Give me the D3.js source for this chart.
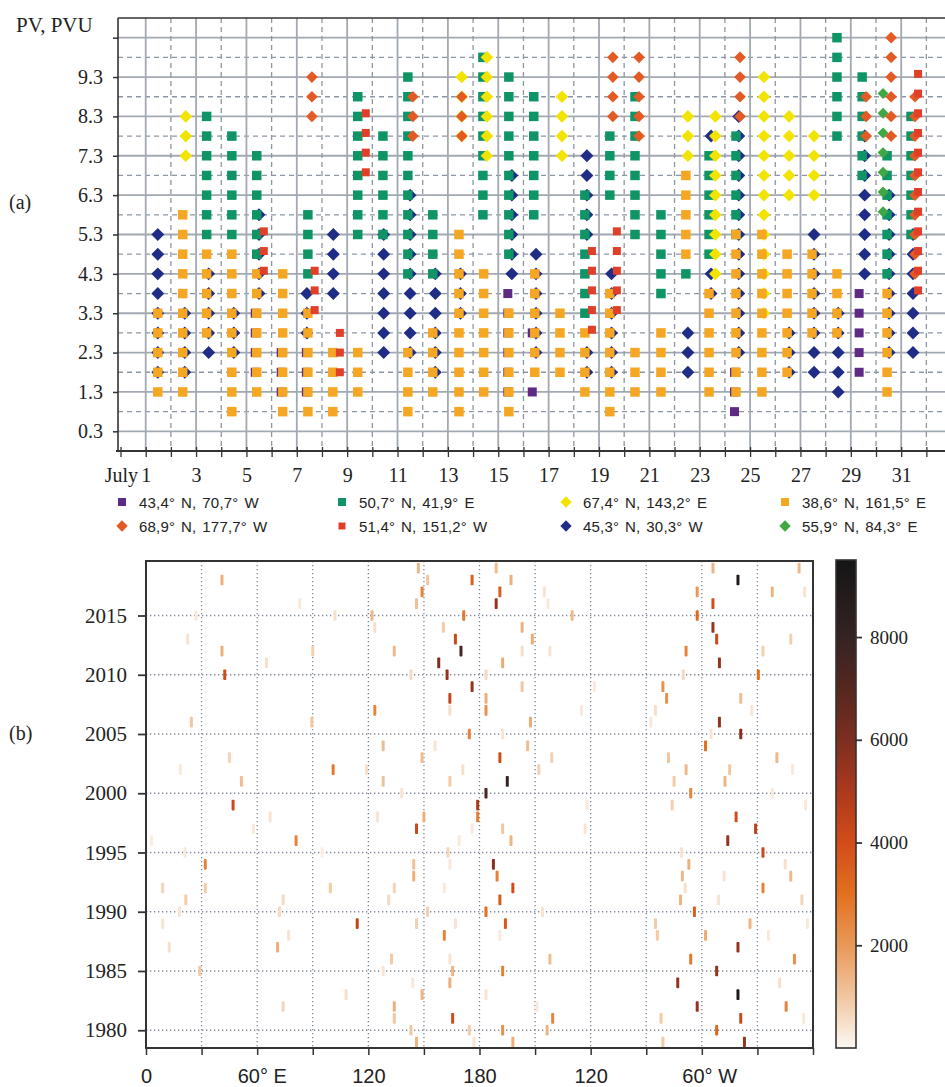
<!DOCTYPE html>
<html>
<head>
<meta charset="utf-8">
<script src="https://cdn.jsdelivr.net/npm/d3@7"></script>
<style>
  body { margin: 0; background: #fff; }
  svg text { font-family: "Liberation Serif", "Times New Roman", "DejaVu Serif", serif; fill: #222; }
  svg text.sans { font-family: "Liberation Sans", Arial, sans-serif; }
</style>
</head>
<body>
<svg id="chart" width="945" height="1087"></svg>
<script>
// ---------------- data, panel (a) ----------------
// each column: [day of July, [PV values, PVU]]
const pvPurple = [
  [5.35, [1.8, 2.3, 2.8, 3.3]], [6.38, [1.3, 1.8, 2.3]], [7.38, [1.3, 1.8, 2.3]],
  [15.38, [1.3, 1.8, 2.3, 2.8, 3.3, 3.8]], [16.35, [1.3, 2.8]],
  [24.38, [0.8, 1.3, 1.8]], [29.33, [1.8, 2.3, 2.8, 3.3, 3.8]]
]
const pvGreen = [
  [3.42, [5.3, 5.8, 6.3, 6.8, 7.3, 7.8, 8.3]], [4.42, [5.3, 5.8, 6.3, 6.8, 7.3, 7.8]],
  [5.41, [4.8, 5.3, 5.8, 6.3, 6.8, 7.3]], [7.44, [4.3, 4.8, 5.3, 5.8]],
  [9.42, [5.3, 5.8, 6.3, 6.8, 7.3, 7.8, 8.3, 8.8]], [10.42, [5.3, 5.8, 6.3, 6.8, 7.3, 7.8]],
  [11.41, [4.3, 4.8, 5.3, 5.8, 6.3, 6.8, 7.3, 7.8, 8.3, 8.8, 9.3]], [12.40, [4.3, 4.8, 5.3, 5.8]],
  [14.39, [5.8, 6.3, 6.8, 7.3, 7.8, 8.3, 8.8, 9.3, 9.8]],
  [15.42, [4.8, 5.3, 5.8, 6.3, 6.8, 7.3, 7.8, 8.3, 8.8, 9.3]],
  [16.41, [5.8, 6.3, 6.8, 7.3, 7.8, 8.3, 8.8]], [18.44, [3.3, 3.8, 4.3, 4.8, 5.3, 5.8, 6.3]],
  [19.43, [6.3, 6.8, 7.3, 7.8]], [20.43, [5.3, 5.8, 6.3, 6.8, 7.3, 7.8, 8.3, 8.8]],
  [21.46, [3.8, 4.3, 4.8, 5.3, 5.8]], [22.45, [4.3]], [23.37, [4.8, 5.3, 5.8, 6.3, 6.8, 7.3]],
  [24.44, [5.3, 5.8, 6.3, 6.8, 7.3, 7.8]], [28.45, [7.8, 8.3, 8.8, 9.3, 9.8, 10.3]],
  [29.45, [6.8, 7.3, 7.8, 8.3, 8.8, 9.3]], [30.44, [4.3, 4.8, 5.3, 5.8, 6.3, 6.8, 7.3]],
  [31.39, [5.3, 5.8, 6.3, 6.8, 7.3, 7.8, 8.3]]
]
const pvYellow = [
  [2.59, [7.3, 7.8, 8.3]], [13.55, [7.8, 8.3, 8.8, 9.3]], [14.55, [7.3, 7.8, 8.3, 8.8, 9.3, 9.8]],
  [17.53, [7.3, 7.8, 8.3, 8.8]], [22.53, [7.3, 7.8, 8.3]],
  [23.62, [4.3, 4.8, 5.3, 5.8, 6.3, 6.8, 7.3, 7.8, 8.3]],
  [25.55, [3.3, 3.8, 4.3, 4.8, 5.3, 5.8, 6.3, 6.8, 7.3, 7.8, 8.3, 8.8, 9.3]],
  [26.55, [6.3, 6.8, 7.3, 7.8, 8.3]], [27.54, [6.3, 6.8, 7.3, 7.8]]
]
const pvOrange = [
  [1.48, [1.3, 1.8, 2.3, 2.8, 3.3]], [2.47, [1.3, 1.8, 2.3, 2.8, 3.3, 3.8, 4.3, 4.8, 5.3, 5.8]],
  [3.42, [2.8, 3.3, 3.8, 4.3, 4.8]], [4.42, [0.8, 1.3, 1.8, 2.3, 2.8, 3.3, 3.8, 4.3, 4.8]],
  [5.41, [1.3, 1.8, 2.3, 2.8, 3.3, 3.8, 4.3]], [6.44, [0.8, 1.3, 1.8, 2.3, 2.8, 3.3, 3.8, 4.3]],
  [7.44, [0.8, 1.3, 1.8, 2.3, 2.8, 3.3]], [8.43, [0.8, 1.3, 1.8, 2.3]], [9.42, [1.3, 1.8, 2.3]],
  [11.41, [0.8, 1.3, 1.8, 2.3]], [12.40, [1.3, 1.8, 2.3, 2.8]],
  [13.44, [0.8, 1.3, 1.8, 2.3, 2.8, 3.3, 3.8, 4.3, 4.8, 5.3]],
  [14.42, [1.3, 1.8, 2.3, 2.8, 3.3, 3.8, 4.3]], [15.42, [0.8, 1.3, 1.8, 2.3, 2.8, 3.3]],
  [16.45, [1.8, 2.3, 2.8, 3.3, 3.8, 4.3]], [17.45, [1.8, 2.3, 2.8, 3.3]], [18.44, [1.3, 1.8, 2.3, 2.8]],
  [19.43, [0.8, 1.3, 1.8, 2.3, 2.8, 3.3, 3.8]], [20.43, [1.3, 1.8, 2.3]], [21.46, [1.3, 1.8, 2.3, 2.8]],
  [22.45, [4.8, 5.3, 5.8, 6.3, 6.8]], [23.37, [1.3, 1.8, 2.3, 2.8, 3.3, 3.8]],
  [24.44, [1.3, 1.8, 2.3, 2.8, 3.3, 3.8, 4.3, 4.8, 5.3]],
  [25.47, [1.3, 1.8, 2.3, 2.8, 3.3, 3.8, 4.3, 4.8, 5.3]], [26.47, [1.8, 2.3, 2.8, 3.3, 3.8, 4.3, 4.8]],
  [27.46, [2.8, 3.3, 3.8, 4.3, 4.8]], [28.45, [2.8, 3.3, 3.8, 4.3]], [30.44, [1.3, 1.8, 2.3, 2.8, 3.3, 3.8]]
]
const pvOrangeRed = [
  [7.60, [8.3, 8.8, 9.3]], [11.61, [7.8, 8.3, 8.8]], [13.55, [7.8, 8.3, 8.8]],
  [19.55, [8.3, 8.8, 9.3, 9.8]], [20.59, [7.8, 8.3, 8.8, 9.3, 9.8]], [24.60, [8.3, 8.8, 9.3, 9.8]],
  [29.61, [7.8, 8.3, 8.8]], [30.60, [7.8, 8.3, 8.8, 9.3, 9.8, 10.3]],
  [31.55, [4.3, 4.8, 5.3, 5.8, 6.3, 6.8, 7.3, 7.8, 8.3, 8.8]]
]
const pvRed = [
  [5.69, [4.38, 4.88, 5.38]], [7.71, [3.38, 3.88, 4.38]], [8.71, [1.8, 2.3, 2.8]],
  [9.74, [6.88, 7.38, 7.88, 8.38]], [18.72, [2.88, 3.38, 3.88, 4.38, 4.88]],
  [19.71, [3.38, 3.88, 4.38, 4.88, 5.38]],
  [31.67, [3.88, 4.38, 4.88, 5.38, 5.88, 6.38, 6.88, 7.38, 7.88, 8.38, 8.88, 9.38]]
]
const pvNavy = [
  [1.48, [1.8, 2.3, 2.8, 3.3, 3.8, 4.3, 4.8, 5.3]], [2.55, [1.8, 2.3, 2.8, 3.3]],
  [3.50, [2.3, 2.8, 3.3, 3.8, 4.3]], [4.50, [2.3, 2.8, 3.3]], [5.50, [3.8, 4.3, 4.8, 5.3, 5.8]],
  [7.40, [2.8, 3.3, 3.8]], [8.45, [3.8, 4.3, 4.8, 5.3]], [10.45, [2.3, 2.8, 3.3, 3.8, 4.3, 4.8, 5.3]],
  [11.50, [2.3, 2.8, 3.3, 3.8, 4.3, 4.8, 5.3, 5.8, 6.3]], [12.50, [1.8, 2.3, 2.8, 3.3, 3.8, 4.3]],
  [13.50, [3.3, 3.8, 4.3]], [15.54, [4.3, 4.8, 5.3, 5.8, 6.3, 6.8]],
  [16.50, [2.3, 2.8, 3.3, 3.8, 4.3, 4.8]], [18.52, [1.8, 2.3, 5.3, 5.8, 6.3, 6.8, 7.3]],
  [19.50, [1.8, 2.3, 2.8, 3.3, 3.8, 4.3]], [22.53, [1.8, 2.3, 2.8]], [23.45, [3.8, 4.3, 7.8]],
  [24.55, [2.3, 2.8, 3.3, 3.8, 4.3, 4.8, 5.3, 5.8, 6.3, 6.8, 7.3, 7.8, 8.3]],
  [26.55, [1.8, 2.3, 2.8]], [27.54, [1.8, 2.3, 2.8, 3.3, 3.8, 4.3, 4.8, 5.3]],
  [28.50, [1.3, 1.8, 2.3, 2.8, 3.3]], [29.55, [4.3, 4.8, 5.3, 5.8, 6.3, 6.8, 7.3, 7.8]],
  [30.52, [2.3, 2.8, 3.3, 3.8, 4.3, 4.8, 5.3, 5.8, 6.3]], [31.47, [2.3, 2.8, 3.3, 3.8, 4.3, 4.8, 5.3]]
]
const pvGreenDiamond = [
  [30.28, [5.88, 6.38, 6.88, 7.38, 7.88, 8.38, 8.88]]
]

const stationLabels = ["43,4° N, 70,7° W", "50,7° N, 41,9° E", "67,4° N, 143,2° E", "38,6° N, 161,5° E",
  "68,9° N, 177,7° W", "51,4° N, 151,2° W", "45,3° N, 30,3° W", "55,9° N, 84,3° E"]

const pvSolid = [0.3, 1.3, 2.3, 3.3, 4.3, 5.3, 6.3, 7.3, 8.3, 9.3, 10.3]
const pvDashed = [0.8, 1.8, 2.8, 3.8, 4.8, 5.8, 6.8, 7.8, 8.8, 9.8]
const oddDays = [1, 3, 5, 7, 9, 11, 13, 15, 17, 19, 21, 23, 25, 27, 29, 31]
const evenDays = [2, 4, 6, 8, 10, 12, 14, 16, 18, 20, 22, 24, 26, 28, 30, 32]
const allDays = d3.range(0, 33)

// ---------------- data, panel (b) ----------------
// [longitude 0..360 eastward, year, PV value]
const heatCells = [
  [41, 2018, 1500], [42.5, 2010, 4000], [41, 2012, 1500], [24.5, 2006, 1000], [18.5, 2002, 300],
  [45, 2003, 700], [51.5, 2001, 1200], [47, 1999, 4200], [101, 2002, 2800], [89.5, 2006, 1000],
  [90, 2012, 800], [65, 2011, 500], [83, 2016, 300], [102, 2015, 500], [122, 2015, 1300],
  [123.5, 2014, 500], [123.5, 2007, 2500], [128, 2004, 1200], [128, 2001, 1100], [134, 2012, 1300],
  [143, 2010, 600], [146, 2016, 1100], [147, 2019, 1400], [152, 2018, 1000], [149, 2017, 2500],
  [149, 2003, 1200], [160.5, 2014, 900], [167, 2013, 4200], [170, 2012, 7500], [158, 2011, 6000],
  [162.5, 2010, 5500], [176, 2009, 5500], [164, 2008, 4300], [164, 2007, 500], [171.5, 2015, 2800],
  [176, 2018, 3500], [183.5, 2008, 1500], [183.5, 2007, 2200], [183.5, 2010, 600], [174.5, 2005, 2500],
  [191, 2003, 4000], [195, 2001, 8000], [183.5, 2000, 7500], [179, 1999, 5000], [189, 2016, 5500],
  [191, 2017, 3500], [189, 2019, 1200], [197, 2018, 1500], [192.5, 2011, 1600], [192.5, 2005, 400],
  [171, 2002, 500], [164, 2001, 900], [138, 2000, 400], [119, 2002, 500], [22.5, 2013, 400],
  [27, 2015, 300], [156, 2004, 400],
  [306, 2019, 1400], [319.5, 2018, 9000], [352.5, 2019, 1300], [338, 2017, 1400], [355.5, 2017, 400],
  [297.5, 2017, 2000], [306, 2016, 4000], [297.5, 2015, 3200], [306, 2014, 5500], [308, 2013, 4200],
  [309.5, 2011, 5500], [291.5, 2012, 2500], [290, 2010, 600], [330.5, 2010, 3000], [333, 2012, 800],
  [348, 2013, 800], [279, 2009, 2200], [281, 2008, 2200], [275, 2007, 500], [321, 2008, 1200],
  [327, 2007, 400], [309.5, 2006, 5500], [321, 2005, 5800], [302, 2004, 3000], [305, 2005, 400],
  [282, 2003, 1000], [291.5, 2002, 1300], [285, 2001, 900], [294, 2000, 2500], [315, 2002, 1000],
  [312.5, 2001, 1400], [318.5, 1998, 4000], [340.5, 2003, 1300], [349, 2002, 300], [338, 2000, 300],
  [284, 1999, 800], [356, 1999, 300], [203, 2014, 1500], [208.5, 2013, 1600], [203, 2012, 500],
  [218, 2012, 400], [230, 2015, 1300], [215, 2017, 400], [217, 2016, 300], [203, 2009, 1000],
  [207.5, 2006, 1600], [206, 2004, 1200], [219, 2003, 800], [212, 2002, 800], [242, 2009, 300],
  [235, 2007, 300], [272.5, 2006, 300], [238, 1999, 300],
  [67, 1998, 400], [58, 1997, 300], [81, 1996, 2500], [32, 1994, 2500], [32, 1992, 900],
  [9, 1992, 700], [21.5, 1991, 900], [18, 1990, 400], [9, 1989, 400], [12.5, 1987, 500],
  [29, 1985, 900], [3, 1996, 200], [21, 1995, 300], [99.5, 1992, 900], [74, 1991, 600],
  [72, 1990, 600], [77, 1988, 400], [71, 1987, 1500], [74, 1982, 700], [108, 1983, 500],
  [114, 1989, 4500], [95, 1995, 200], [125, 1998, 400], [146, 1997, 4200], [150, 1998, 1500],
  [144.5, 1994, 1100], [144.5, 1993, 1500], [134, 1992, 700], [131, 1991, 600], [152, 1990, 800],
  [146, 1989, 800], [161, 1988, 2500], [167, 1989, 400], [132.5, 1986, 900], [128, 1985, 400],
  [164, 1986, 400], [165.5, 1985, 1400], [164, 1984, 1500], [144, 1984, 300], [149, 1983, 1400],
  [134, 1982, 1500], [134, 1981, 1000], [165.5, 1981, 4000], [143, 1980, 1000], [146, 1979, 1400],
  [174.5, 1980, 900], [177, 1979, 400], [192.5, 1980, 2200], [198, 1979, 1500], [183.5, 1983, 400],
  [192.5, 1985, 2600], [183.5, 1990, 3000], [194, 1989, 3600], [191, 1991, 3600], [198, 1992, 4000],
  [189.5, 1993, 2600], [187.5, 1994, 5800], [197, 1996, 1400], [192.5, 1997, 1000], [179, 1998, 2600],
  [169, 1996, 300], [176, 1997, 300], [163, 1995, 700], [164, 1994, 300], [161, 1992, 300],
  [191, 1988, 300],
  [329, 1997, 4500], [314, 1996, 5500], [333, 1995, 4200], [289, 1995, 400], [293, 1994, 1500],
  [289.5, 1993, 1300], [291, 1992, 500], [288.5, 1991, 1400], [296, 1990, 3500], [302, 1988, 1600],
  [319.5, 1987, 5500], [294, 1986, 2800], [308, 1985, 5500], [287, 1984, 5500], [319.5, 1983, 9000],
  [297.5, 1982, 5500], [321, 1981, 4200], [308, 1980, 3300], [323, 1979, 5500], [333, 1992, 2500],
  [312, 1993, 400], [309, 1991, 400], [326, 1989, 1400], [350, 1986, 2200], [345.5, 1982, 2500],
  [348, 1993, 1300], [345, 1994, 500], [354, 1991, 700], [342, 1984, 500], [355, 1981, 300],
  [357, 1989, 300], [336, 1988, 300], [275, 1989, 900], [276, 1988, 900], [278, 1981, 900],
  [279, 1979, 900], [219.5, 1981, 2500], [216.5, 1980, 1400], [218, 1986, 1200], [214, 1990, 400],
  [237, 1997, 400], [211, 1982, 300]
]

const lonTicks = [0, 30, 60, 90, 120, 150, 180, 210, 240, 270, 300, 330, 360]
const lonLabels = { 0: "0", 60: "60° E", 120: "120", 180: "180", 240: "120", 300: "60° W" }
const yearTicks = [1980, 1985, 1990, 1995, 2000, 2005, 2010, 2015]
const barTicks = [2000, 4000, 6000, 8000]

// colour ramp of the colorbar
const rampValues = [0, 1000, 2000, 3000, 4000, 5000, 6000, 7000, 8000, 9500]
const rampColors = ["#fcf8f3", "#f1c6a0", "#e99858", "#e2701f", "#d24c1a", "#ab391c", "#7d2e20", "#55271f", "#352323", "#151515"]

//diamond = square turned by 45 degrees
const symDiamond = {
    draw(context, size) {
        const r = Math.sqrt(size / 2)
        context.moveTo(0, -r)
        context.lineTo(r, 0)
        context.lineTo(0, r)
        context.lineTo(-r, 0)
        context.closePath()
    }
}

// draw order (bottom first) + legend slot
const stations = [
    { data: pvNavy, color: "#1f2d86", shape: symDiamond, size: 84, legend: 6 },
    { data: pvPurple, color: "#5e2a84", shape: d3.symbolSquare, size: 81, legend: 0 },
    { data: pvGreen, color: "#0f9466", shape: d3.symbolSquare, size: 90, legend: 1 },
    { data: pvYellow, color: "#f2e400", shape: symDiamond, size: 80, legend: 2 },
    { data: pvOrange, color: "#f5a623", shape: d3.symbolSquare, size: 90, legend: 3 },
    { data: pvGreenDiamond, color: "#3fa845", shape: symDiamond, size: 60, legend: 7 },
    { data: pvOrangeRed, color: "#e35a24", shape: symDiamond, size: 68, legend: 4 },
    { data: pvRed, color: "#e0402a", shape: d3.symbolSquare, size: 64, legend: 5 }
]

const svg = d3.select("#chart")

/* =========== panel (a) =========== */
const xA = d3.scaleLinear().domain([-0.1, 32.74]).range([118, 945])
const yA = d3.scaleLinear().domain([-0.2, 10.8]).range([451, 18])

const gridA = svg.append("g")
gridA.selectAll(".hs").data(pvSolid).join("line").attr("class", "hs")
    .attr("x1", 118).attr("x2", 945)
    .attr("y1", d => yA(d)).attr("y2", d => yA(d))
    .attr("stroke", "#a2a9b2").attr("stroke-width", 1.8)
gridA.selectAll(".hd").data(pvDashed).join("line").attr("class", "hd")
    .attr("x1", 118).attr("x2", 945)
    .attr("y1", d => yA(d)).attr("y2", d => yA(d))
    .attr("stroke", "#8d97a3").attr("stroke-width", 1.3).attr("stroke-dasharray", "5,4")
gridA.selectAll(".vs").data(oddDays).join("line").attr("class", "vs")
    .attr("x1", d => xA(d)).attr("x2", d => xA(d))
    .attr("y1", 18).attr("y2", 451)
    .attr("stroke", "#a2a9b2").attr("stroke-width", 1.8)
gridA.selectAll(".vd").data(evenDays).join("line").attr("class", "vd")
    .attr("x1", d => xA(d)).attr("x2", d => xA(d))
    .attr("y1", 18).attr("y2", 451)
    .attr("stroke", "#8d97a3").attr("stroke-width", 1.3).attr("stroke-dasharray", "5,4")

// markers
stations.forEach(st => {
    const pts = st.data.flatMap(([day, levels]) => levels.map(pv => ({ day, pv })))
    svg.append("g").selectAll("path").data(pts).join("path")
        .attr("transform", d => `translate(${xA(d.day)},${yA(d.pv)})`)
        .attr("d", d3.symbol(st.shape, st.size))
        .attr("fill", st.color)
})

// frame
svg.append("line").attr("x1", 118).attr("x2", 945).attr("y1", 18).attr("y2", 18)
    .attr("stroke", "#333").attr("stroke-width", 1.6)
svg.append("line").attr("x1", 118).attr("x2", 118).attr("y1", 18).attr("y2", 451)
    .attr("stroke", "#333").attr("stroke-width", 1.6)
svg.append("line").attr("x1", 116).attr("x2", 945).attr("y1", 451).attr("y2", 451)
    .attr("stroke", "#333").attr("stroke-width", 2.2)

svg.append("g")
    .attr("transform", "translate(0,451)")
    .call(d3.axisBottom(xA).tickValues(allDays).tickSize(6)
        .tickFormat(d => oddDays.includes(d) ? d : ""))
    .call(g => g.select(".domain").remove())
    .call(g => g.selectAll(".tick line").attr("y1", -4).attr("stroke", "#333").attr("stroke-width", 1.3))
    .call(g => g.selectAll(".tick text").attr("y", 31).attr("dy", null).attr("font-size", 20))

svg.append("g")
    .attr("transform", "translate(118,0)")
    .call(d3.axisLeft(yA).tickValues(pvSolid).tickSize(5)
        .tickFormat(d => d < 10 ? d.toFixed(1) : ""))
    .call(g => g.select(".domain").remove())
    .call(g => g.selectAll(".tick line").attr("stroke", "#333").attr("stroke-width", 1.5))
    .call(g => g.selectAll(".tick text").attr("x", -15).attr("font-size", 20))

svg.append("text").attr("x", 16).attr("y", 32).attr("font-size", 21).text("PV, PVU")
svg.append("text").attr("x", 9).attr("y", 209).attr("font-size", 20).text("(a)")
svg.append("text").attr("x", 138).attr("y", 482).attr("font-size", 20)
    .attr("text-anchor", "end").text("July")

// legend
const legX = [122, 342, 566, 785]
const legY = [502, 526]
stations.forEach(st => {
    const col = st.legend % 4, row = Math.floor(st.legend / 4)
    const isDiamond = st.shape === symDiamond
    svg.append("path")
        .attr("transform", `translate(${legX[col]},${legY[row]})`)
        .attr("d", d3.symbol(st.shape, isDiamond ? 64 : (st.legend === 5 ? 49 : 64)))
        .attr("fill", st.color)
    svg.append("text").attr("class", "sans")
        .attr("x", legX[col] + 17).attr("y", legY[row] + 6)
        .attr("font-size", 15)
        .style("letter-spacing", "0.2px").style("word-spacing", "1.5px")
        .text(stationLabels[st.legend])
})

/* =========== panel (b) =========== */
const xB = d3.scaleLinear().domain([0, 360]).range([146, 813])
const yB = d3.scaleLinear().domain([1978.5, 2019.6]).range([1048, 561])
const colorB = d3.scaleLinear().domain(rampValues).range(rampColors).clamp(true)

const gridB = svg.append("g")
gridB.selectAll(".gv").data(lonTicks.slice(1, -1)).join("line").attr("class", "gv")
    .attr("x1", d => xB(d)).attr("x2", d => xB(d))
    .attr("y1", 561).attr("y2", 1048)
    .attr("stroke", "#7d8799").attr("stroke-width", 1.3).attr("stroke-dasharray", "1.3,2.7")
gridB.selectAll(".gh").data(yearTicks).join("line").attr("class", "gh")
    .attr("x1", 146).attr("x2", 813)
    .attr("y1", d => yB(d)).attr("y2", d => yB(d))
    .attr("stroke", "#7d8799").attr("stroke-width", 1.3).attr("stroke-dasharray", "1.3,2.7")

svg.append("g").selectAll("rect").data(heatCells).join("rect")
    .attr("x", d => xB(d[0]) - 1.5)
    .attr("width", 3)
    .attr("y", d => yB(d[1] + 0.45))
    .attr("height", d => yB(d[1] - 0.45) - yB(d[1] + 0.45))
    .attr("rx", 0.8)
    .attr("fill", d => colorB(d[2]))

svg.append("rect").attr("x", 146).attr("y", 561).attr("width", 667).attr("height", 487)
    .attr("fill", "none").attr("stroke", "#333").attr("stroke-width", 2)

svg.append("g")
    .attr("transform", "translate(0,1048)")
    .call(d3.axisBottom(xB).tickValues(lonTicks).tickSize(7)
        .tickFormat(d => lonLabels[d] || ""))
    .call(g => g.select(".domain").remove())
    .call(g => g.selectAll(".tick line").attr("stroke", "#333").attr("stroke-width", 1.5))
    .call(g => g.selectAll(".tick text").attr("class", "sans")
        .attr("y", 35).attr("dy", null).attr("font-size", 20))
    .call(g => g.selectAll(".tick text").filter(d => d === 60 || d === 300)
        .attr("text-anchor", "start").attr("x", -20))

svg.append("g")
    .attr("transform", "translate(146,0)")
    .call(d3.axisLeft(yB).tickValues(yearTicks).tickSize(8).tickFormat(d3.format("d")))
    .call(g => g.select(".domain").remove())
    .call(g => g.selectAll(".tick line").attr("stroke", "#333").attr("stroke-width", 1.8))
    .call(g => g.selectAll(".tick text").attr("x", -19).attr("font-size", 21))

svg.append("text").attr("x", 9).attr("y", 740).attr("font-size", 20).text("(b)")

// colorbar
const cBar = d3.scaleLinear().domain([0, 9500]).range([1048, 560])
const grad = svg.append("defs").append("linearGradient")
    .attr("id", "pvramp").attr("x1", 0).attr("y1", 1).attr("x2", 0).attr("y2", 0)
grad.selectAll("stop").data(rampValues).join("stop")
    .attr("offset", d => d / 9500)
    .attr("stop-color", d => colorB(d))
svg.append("rect").attr("x", 836).attr("y", 560).attr("width", 20).attr("height", 488)
    .attr("fill", "url(#pvramp)").attr("stroke", "#333").attr("stroke-width", 1.6)
svg.append("g")
    .attr("transform", "translate(856,0)")
    .call(d3.axisRight(cBar).tickValues(barTicks).tickSize(6).tickFormat(d3.format("d")))
    .call(g => g.select(".domain").remove())
    .call(g => g.selectAll(".tick line").attr("stroke", "#333").attr("stroke-width", 1.8))
    .call(g => g.selectAll(".tick text").attr("x", 14).attr("font-size", 19))
</script>
</body>
</html>
